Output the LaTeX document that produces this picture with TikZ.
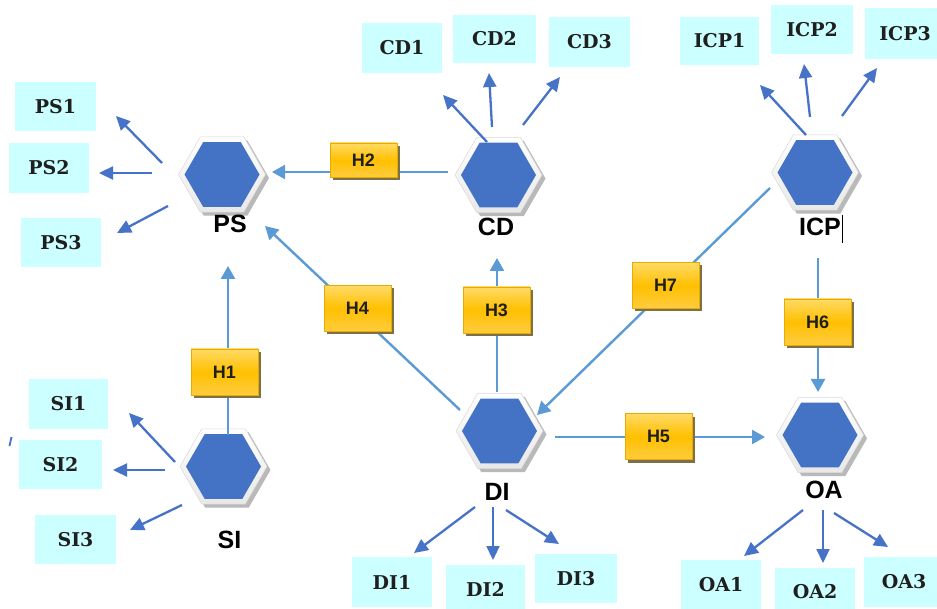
\documentclass[tikz,border=0pt]{standalone}
\usepackage{fontspec}
\usetikzlibrary{arrows.meta,shadows}
\newfontfamily\lblfont{Liberation Sans}
\newfontfamily\boxfont{DejaVu Serif}
\definecolor{hexblue}{HTML}{4472C4}
\definecolor{connblue}{HTML}{5B9BD5}
\definecolor{arrowblue}{HTML}{4673C8}
\definecolor{cyanbox}{HTML}{CCFFFF}
\definecolor{hlight}{HTML}{FFDA66}
\definecolor{hmid}{HTML}{FFC000}
\definecolor{hbot}{HTML}{FFCC40}
\definecolor{hborder}{HTML}{E8AC00}
\definecolor{hshadow}{HTML}{7F6F45}
\newcommand\hexp[3]{(#1+#3,#2) -- ++(120:#3) -- ++(180:#3) -- ++(240:#3) -- ++(300:#3) -- ++(0:#3) -- cycle}
\newcommand\hexnode[3]{%
  \fill[gray!55] \hexp{#2+3.5}{#3+3.5}{43.5};
  \path[hexframe] \hexp{#2}{#3}{43.5};
  \fill[hexblue] \hexp{#2}{#3}{37.5};
  \node[hexanchor] (#1) at (#2,#3) {};
}
\tikzset{
  hexframe/.style={top color=white, bottom color=gray!18, draw=gray!30, line width=0.5pt},
  hexanchor/.style={circle, inner sep=0pt, minimum size=1pt},
  conn/.style={draw=connblue, line width=2.4pt, -{Triangle[length=13pt,width=14pt]}},
  sarrow/.style={draw=arrowblue, line width=2.3pt, -{Triangle[length=14pt,width=13pt]}},
  hbox/.style={draw=hborder, line width=0.6pt, top color=hlight, bottom color=hbot, middle color=hmid,
    minimum width=67pt, minimum height=46pt, inner sep=0pt,
    drop shadow={shadow xshift=3pt, shadow yshift=-3pt, fill=hshadow, opacity=1},
    font=\lblfont\bfseries\fontsize{18}{21}\selectfont, text=black!88},
  cbox/.style={fill=cyanbox, minimum width=80pt, minimum height=49pt, inner sep=0pt,
    font=\boxfont\bfseries\fontsize{19}{23}\selectfont, text=black!88},
  hlabel/.style={inner sep=0pt, font=\lblfont\bfseries\fontsize{25}{30}\selectfont, text=black}
}
\begin{document}
\begin{tikzpicture}[x=1pt,y=-1pt]
\useasboundingbox (0,0) rectangle (937,609);
\fill[white] (0,0) rectangle (937,609);

% hexagons
\hexnode{PS}{222}{174.5}
\hexnode{CD}{498.5}{175}
\hexnode{ICP}{815}{172.5}
\hexnode{SI}{223.5}{466.5}
\hexnode{DI}{499.5}{431}
\hexnode{OA}{820}{435}

% hexagon labels
\node[hlabel] (PSl) at (230,224) {PS};
\node[hlabel] (CDl) at (496,227) {CD};
\node[hlabel] (ICPl) at (820,227) {ICP};
\node[hlabel] (SIl) at (229.5,540) {SI};
\node[hlabel] (DIl) at (497,492) {DI};
\node[hlabel] (OAl) at (824,490) {OA};
\draw[black, line width=0.8pt] (842.5,215) -- (842.5,243);

% main connectors
\draw[conn] ([shift={(4.5,-31.5)}]SI.center) -- ([shift={(6,91.5)}]PS.center);
\draw[conn] ([shift={(-50.5,-3)}]CD.center) -- ([shift={(50,-2.5)}]PS.center);
\draw[conn] ([shift={(-2.5,-39)}]DI.center) -- ([shift={(-1.5,83)}]CD.center);
\draw[conn] ([shift={(-39.5,-21)}]DI.center) -- ([shift={(43,51.5)}]PS.center);
\draw[conn] ([shift={(55.5,6)}]DI.center) -- ([shift={(-55,2)}]OA.center);
\draw[conn] ([shift={(3,85.5)}]ICP.center) -- ([shift={(-2,-43)}]OA.center);
\draw[conn] ([shift={(-45,15.5)}]ICP.center) -- ([shift={(37.5,-16)}]DI.center);

% H boxes
\node[hbox] (H1) at (224.5,372) {H1};
\node[hbox, minimum height=34pt] (H2) at (363.5,160) {H2};
\node[hbox] (H3) at (496.5,310) {H3};
\node[hbox] (H4) at (357.5,308.5) {H4};
\node[hbox] (H5) at (658.5,436.5) {H5};
\node[hbox] (H6) at (817.5,322) {H6};
\node[hbox] (H7) at (665.5,285.5) {H7};

% cyan boxes
\node[cbox, minimum width=81pt] (PS1) at (55.5,106.5) {PS1};
\node[cbox, minimum height=50pt] (PS2) at (49,168) {PS2};
\node[cbox] (PS3) at (61,242.5) {PS3};
\node[cbox, minimum height=50pt] (CD1) at (402,48) {CD1};
\node[cbox, minimum width=83pt, minimum height=48pt] (CD2) at (494.5,39) {CD2};
\node[cbox, minimum width=81pt, minimum height=50pt] (CD3) at (589.5,42) {CD3};
\node[cbox, minimum width=79pt, minimum height=48pt] (ICP1) at (719.5,41) {ICP1};
\node[cbox, minimum width=82pt] (ICP2) at (812,29.5) {ICP2};
\node[cbox, minimum height=51pt] (ICP3) at (905,33.5) {ICP3};
\node[cbox, minimum width=79pt, minimum height=50pt] (SI1) at (68.5,404) {SI1};
\node[cbox, minimum width=83pt] (SI2) at (60.5,464.5) {SI2};
\node[cbox, minimum width=81pt] (SI3) at (75.5,539.5) {SI3};
\node[cbox, minimum height=50pt] (DI1) at (392,582) {DI1};
\node[cbox, minimum width=79pt] (DI2) at (485.5,589) {DI2};
\node[cbox, minimum width=82pt] (DI3) at (576,578.5) {DI3};
\node[cbox] (OA1) at (721,584.5) {OA1};
\node[cbox] (OA2) at (815,592) {OA2};
\node[cbox, minimum height=50pt] (OA3) at (904,582) {OA3};

% small arrows
\draw[sarrow] ([shift={(-60,-11.5)}]PS.center) -- ([shift={(60.5,9.5)}]PS1.center);
\draw[sarrow] ([shift={(-70,-1.5)}]PS.center) -- ([shift={(50,5)}]PS2.center);
\draw[sarrow] ([shift={(-54,31.5)}]PS.center) -- ([shift={(56,-9.5)}]PS3.center);
\draw[sarrow] ([shift={(-11.5,-33)}]CD.center) -- ([shift={(41,47)}]CD1.center);
\draw[sarrow] ([shift={(-6.5,-48)}]CD.center) -- ([shift={(-5.5,34)}]CD2.center);
\draw[sarrow] ([shift={(24.5,-50)}]CD.center) -- ([shift={(-29.5,35)}]CD3.center);
\draw[sarrow] ([shift={(-9,-37.5)}]ICP.center) -- ([shift={(40.5,44)}]ICP1.center);
\draw[sarrow] ([shift={(-5,-55.5)}]ICP.center) -- ([shift={(-8,34.5)}]ICP2.center);
\draw[sarrow] ([shift={(27,-56.5)}]ICP.center) -- ([shift={(-28,34.5)}]ICP3.center);
\draw[sarrow] ([shift={(-48.5,-4.5)}]SI.center) -- ([shift={(60.5,9)}]SI1.center);
\draw[sarrow] ([shift={(-58.5,3.5)}]SI.center) -- ([shift={(52.5,5.5)}]SI2.center);
\draw[sarrow] ([shift={(-41.5,38.5)}]SI.center) -- ([shift={(54.5,-9.5)}]SI3.center);
\draw[sarrow] ([shift={(-24.5,76)}]DI.center) -- ([shift={(22,-29)}]DI1.center);
\draw[sarrow] ([shift={(-6.5,76)}]DI.center) -- ([shift={(7.5,-29)}]DI2.center);
\draw[sarrow] ([shift={(6.5,79)}]DI.center) -- ([shift={(-17,-34.5)}]DI3.center);
\draw[sarrow] ([shift={(-17,75)}]OA.center) -- ([shift={(23,-28.5)}]OA1.center);
\draw[sarrow] ([shift={(3,75)}]OA.center) -- ([shift={(8,-29)}]OA2.center);
\draw[sarrow] ([shift={(14,78)}]OA.center) -- ([shift={(-16,-35)}]OA3.center);

% stray mark
\draw[arrowblue, line width=1.8pt] (11.5,437) -- (9.5,446);
\end{tikzpicture}
\end{document}
